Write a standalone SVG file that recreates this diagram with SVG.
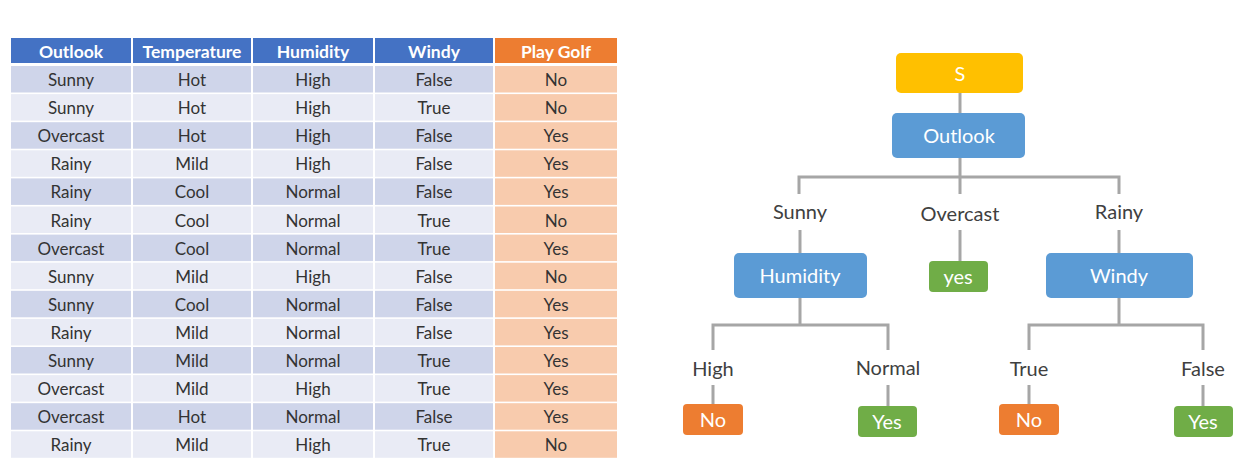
<svg xmlns="http://www.w3.org/2000/svg" width="1252" height="475" viewBox="0 0 1252 475">
<style>
.hd{fill:#4472C4}
.hg{fill:#ED7D31}
.ro{fill:#CFD5EA}
.re{fill:#E9EBF5}
.pg{fill:#F8CBAD}
.ht{font-family:Lato,"Open Sans",sans-serif;font-size:17.5px;font-weight:bold;fill:#fff;text-anchor:middle;dominant-baseline:central}
.ct{font-family:Lato,"Open Sans",sans-serif;font-size:17px;fill:#333;text-anchor:middle;dominant-baseline:central}
.nt{font-family:Lato,"Open Sans",sans-serif;font-size:20px;fill:#fff;text-anchor:middle;dominant-baseline:central}
.lt{font-family:Lato,"Open Sans",sans-serif;font-size:20px;fill:#404040;text-anchor:middle;dominant-baseline:central}
.ln{stroke:#A6A6A6;stroke-width:3;fill:none}
</style>
<rect width="1252" height="475" fill="#fff"/>
<g id="table">
<rect class="hd" x="11" y="38" width="120" height="25"/>
<rect class="hd" x="133" y="38" width="118" height="25"/>
<rect class="hd" x="253" y="38" width="120" height="25"/>
<rect class="hd" x="375" y="38" width="118" height="25"/>
<rect class="hg" x="495" y="38" width="122" height="25"/>
<text class="ht" x="71" y="51">Outlook</text>
<text class="ht" x="192" y="51">Temperature</text>
<text class="ht" x="313" y="51">Humidity</text>
<text class="ht" x="434" y="51">Windy</text>
<text class="ht" x="556" y="51">Play Golf</text>
<g id="rows">
<g transform="translate(0,66)"><rect class="ro" x="11" width="120" height="26.5"/><rect class="ro" x="133" width="118" height="26.5"/><rect class="ro" x="253" width="120" height="26.5"/><rect class="ro" x="375" width="118" height="26.5"/><rect class="pg" x="495" width="122" height="26.5"/><text class="ct" x="71" y="13.5">Sunny</text><text class="ct" x="192" y="13.5">Hot</text><text class="ct" x="313" y="13.5">High</text><text class="ct" x="434" y="13.5">False</text><text class="ct" x="556" y="13.5">No</text></g>
<g transform="translate(0,94.1)"><rect class="re" x="11" width="120" height="26.5"/><rect class="re" x="133" width="118" height="26.5"/><rect class="re" x="253" width="120" height="26.5"/><rect class="re" x="375" width="118" height="26.5"/><rect class="pg" x="495" width="122" height="26.5"/><text class="ct" x="71" y="13.5">Sunny</text><text class="ct" x="192" y="13.5">Hot</text><text class="ct" x="313" y="13.5">High</text><text class="ct" x="434" y="13.5">True</text><text class="ct" x="556" y="13.5">No</text></g>
<g transform="translate(0,122.2)"><rect class="ro" x="11" width="120" height="26.5"/><rect class="ro" x="133" width="118" height="26.5"/><rect class="ro" x="253" width="120" height="26.5"/><rect class="ro" x="375" width="118" height="26.5"/><rect class="pg" x="495" width="122" height="26.5"/><text class="ct" x="71" y="13.5">Overcast</text><text class="ct" x="192" y="13.5">Hot</text><text class="ct" x="313" y="13.5">High</text><text class="ct" x="434" y="13.5">False</text><text class="ct" x="556" y="13.5">Yes</text></g>
<g transform="translate(0,150.3)"><rect class="re" x="11" width="120" height="26.5"/><rect class="re" x="133" width="118" height="26.5"/><rect class="re" x="253" width="120" height="26.5"/><rect class="re" x="375" width="118" height="26.5"/><rect class="pg" x="495" width="122" height="26.5"/><text class="ct" x="71" y="13.5">Rainy</text><text class="ct" x="192" y="13.5">Mild</text><text class="ct" x="313" y="13.5">High</text><text class="ct" x="434" y="13.5">False</text><text class="ct" x="556" y="13.5">Yes</text></g>
<g transform="translate(0,178.4)"><rect class="ro" x="11" width="120" height="26.5"/><rect class="ro" x="133" width="118" height="26.5"/><rect class="ro" x="253" width="120" height="26.5"/><rect class="ro" x="375" width="118" height="26.5"/><rect class="pg" x="495" width="122" height="26.5"/><text class="ct" x="71" y="13.5">Rainy</text><text class="ct" x="192" y="13.5">Cool</text><text class="ct" x="313" y="13.5">Normal</text><text class="ct" x="434" y="13.5">False</text><text class="ct" x="556" y="13.5">Yes</text></g>
<g transform="translate(0,206.5)"><rect class="re" x="11" width="120" height="26.5"/><rect class="re" x="133" width="118" height="26.5"/><rect class="re" x="253" width="120" height="26.5"/><rect class="re" x="375" width="118" height="26.5"/><rect class="pg" x="495" width="122" height="26.5"/><text class="ct" x="71" y="13.5">Rainy</text><text class="ct" x="192" y="13.5">Cool</text><text class="ct" x="313" y="13.5">Normal</text><text class="ct" x="434" y="13.5">True</text><text class="ct" x="556" y="13.5">No</text></g>
<g transform="translate(0,234.6)"><rect class="ro" x="11" width="120" height="26.5"/><rect class="ro" x="133" width="118" height="26.5"/><rect class="ro" x="253" width="120" height="26.5"/><rect class="ro" x="375" width="118" height="26.5"/><rect class="pg" x="495" width="122" height="26.5"/><text class="ct" x="71" y="13.5">Overcast</text><text class="ct" x="192" y="13.5">Cool</text><text class="ct" x="313" y="13.5">Normal</text><text class="ct" x="434" y="13.5">True</text><text class="ct" x="556" y="13.5">Yes</text></g>
<g transform="translate(0,262.7)"><rect class="re" x="11" width="120" height="26.5"/><rect class="re" x="133" width="118" height="26.5"/><rect class="re" x="253" width="120" height="26.5"/><rect class="re" x="375" width="118" height="26.5"/><rect class="pg" x="495" width="122" height="26.5"/><text class="ct" x="71" y="13.5">Sunny</text><text class="ct" x="192" y="13.5">Mild</text><text class="ct" x="313" y="13.5">High</text><text class="ct" x="434" y="13.5">False</text><text class="ct" x="556" y="13.5">No</text></g>
<g transform="translate(0,290.8)"><rect class="ro" x="11" width="120" height="26.5"/><rect class="ro" x="133" width="118" height="26.5"/><rect class="ro" x="253" width="120" height="26.5"/><rect class="ro" x="375" width="118" height="26.5"/><rect class="pg" x="495" width="122" height="26.5"/><text class="ct" x="71" y="13.5">Sunny</text><text class="ct" x="192" y="13.5">Cool</text><text class="ct" x="313" y="13.5">Normal</text><text class="ct" x="434" y="13.5">False</text><text class="ct" x="556" y="13.5">Yes</text></g>
<g transform="translate(0,318.9)"><rect class="re" x="11" width="120" height="26.5"/><rect class="re" x="133" width="118" height="26.5"/><rect class="re" x="253" width="120" height="26.5"/><rect class="re" x="375" width="118" height="26.5"/><rect class="pg" x="495" width="122" height="26.5"/><text class="ct" x="71" y="13.5">Rainy</text><text class="ct" x="192" y="13.5">Mild</text><text class="ct" x="313" y="13.5">Normal</text><text class="ct" x="434" y="13.5">False</text><text class="ct" x="556" y="13.5">Yes</text></g>
<g transform="translate(0,347)"><rect class="ro" x="11" width="120" height="26.5"/><rect class="ro" x="133" width="118" height="26.5"/><rect class="ro" x="253" width="120" height="26.5"/><rect class="ro" x="375" width="118" height="26.5"/><rect class="pg" x="495" width="122" height="26.5"/><text class="ct" x="71" y="13.5">Sunny</text><text class="ct" x="192" y="13.5">Mild</text><text class="ct" x="313" y="13.5">Normal</text><text class="ct" x="434" y="13.5">True</text><text class="ct" x="556" y="13.5">Yes</text></g>
<g transform="translate(0,375.1)"><rect class="re" x="11" width="120" height="26.5"/><rect class="re" x="133" width="118" height="26.5"/><rect class="re" x="253" width="120" height="26.5"/><rect class="re" x="375" width="118" height="26.5"/><rect class="pg" x="495" width="122" height="26.5"/><text class="ct" x="71" y="13.5">Overcast</text><text class="ct" x="192" y="13.5">Mild</text><text class="ct" x="313" y="13.5">High</text><text class="ct" x="434" y="13.5">True</text><text class="ct" x="556" y="13.5">Yes</text></g>
<g transform="translate(0,403.2)"><rect class="ro" x="11" width="120" height="26.5"/><rect class="ro" x="133" width="118" height="26.5"/><rect class="ro" x="253" width="120" height="26.5"/><rect class="ro" x="375" width="118" height="26.5"/><rect class="pg" x="495" width="122" height="26.5"/><text class="ct" x="71" y="13.5">Overcast</text><text class="ct" x="192" y="13.5">Hot</text><text class="ct" x="313" y="13.5">Normal</text><text class="ct" x="434" y="13.5">False</text><text class="ct" x="556" y="13.5">Yes</text></g>
<g transform="translate(0,431.3)"><rect class="re" x="11" width="120" height="26.5"/><rect class="re" x="133" width="118" height="26.5"/><rect class="re" x="253" width="120" height="26.5"/><rect class="re" x="375" width="118" height="26.5"/><rect class="pg" x="495" width="122" height="26.5"/><text class="ct" x="71" y="13.5">Rainy</text><text class="ct" x="192" y="13.5">Mild</text><text class="ct" x="313" y="13.5">High</text><text class="ct" x="434" y="13.5">True</text><text class="ct" x="556" y="13.5">No</text></g>
</g>
</g>
<g id="connectors">
<path class="ln" d="M960 93V113"/>
<path class="ln" d="M960 158V194M799 194V177H1119V194"/>
<path class="ln" d="M800 230V253"/>
<path class="ln" d="M960 230V261"/>
<path class="ln" d="M1119 230V253"/>
<path class="ln" d="M800 298V325M713 350V325H888V350"/>
<path class="ln" d="M713 385V404M888 385V406"/>
<path class="ln" d="M1119 298V325M1029 350V325H1203V350"/>
<path class="ln" d="M1029 385V404M1203 385V406"/>
</g>
<g id="labels">
<text class="lt" x="800" y="211">Sunny</text>
<text class="lt" x="960" y="213">Overcast</text>
<text class="lt" x="1119" y="211">Rainy</text>
<text class="lt" x="713" y="368">High</text>
<text class="lt" x="888" y="367">Normal</text>
<text class="lt" x="1029" y="368">True</text>
<text class="lt" x="1203" y="368">False</text>
</g>
<g id="node-s"><rect x="896" y="53" width="127" height="40" rx="5" fill="#FFC000"/><text class="nt" x="960" y="73">S</text></g>
<g id="node-outlook"><rect x="892" y="113" width="133" height="45" rx="5" fill="#5B9BD5"/><text class="nt" x="959" y="135">Outlook</text></g>
<g id="node-humidity"><rect x="734" y="253" width="133" height="45" rx="5" fill="#5B9BD5"/><text class="nt" x="800" y="275">Humidity</text></g>
<g id="node-yes-overcast"><rect x="929" y="261" width="59" height="31" rx="4" fill="#70AD47"/><text class="nt" x="958" y="276">yes</text></g>
<g id="node-windy"><rect x="1046" y="253" width="147" height="45" rx="5" fill="#5B9BD5"/><text class="nt" x="1119" y="275">Windy</text></g>
<g id="node-no-high"><rect x="683" y="404" width="60" height="31" rx="4" fill="#ED7D31"/><text class="nt" x="713" y="419">No</text></g>
<g id="node-yes-normal"><rect x="858" y="406" width="59" height="31" rx="4" fill="#70AD47"/><text class="nt" x="887" y="421">Yes</text></g>
<g id="node-no-true"><rect x="999" y="404" width="60" height="31" rx="4" fill="#ED7D31"/><text class="nt" x="1029" y="419">No</text></g>
<g id="node-yes-false"><rect x="1174" y="406" width="59" height="31" rx="4" fill="#70AD47"/><text class="nt" x="1203" y="421">Yes</text></g>
</svg>
